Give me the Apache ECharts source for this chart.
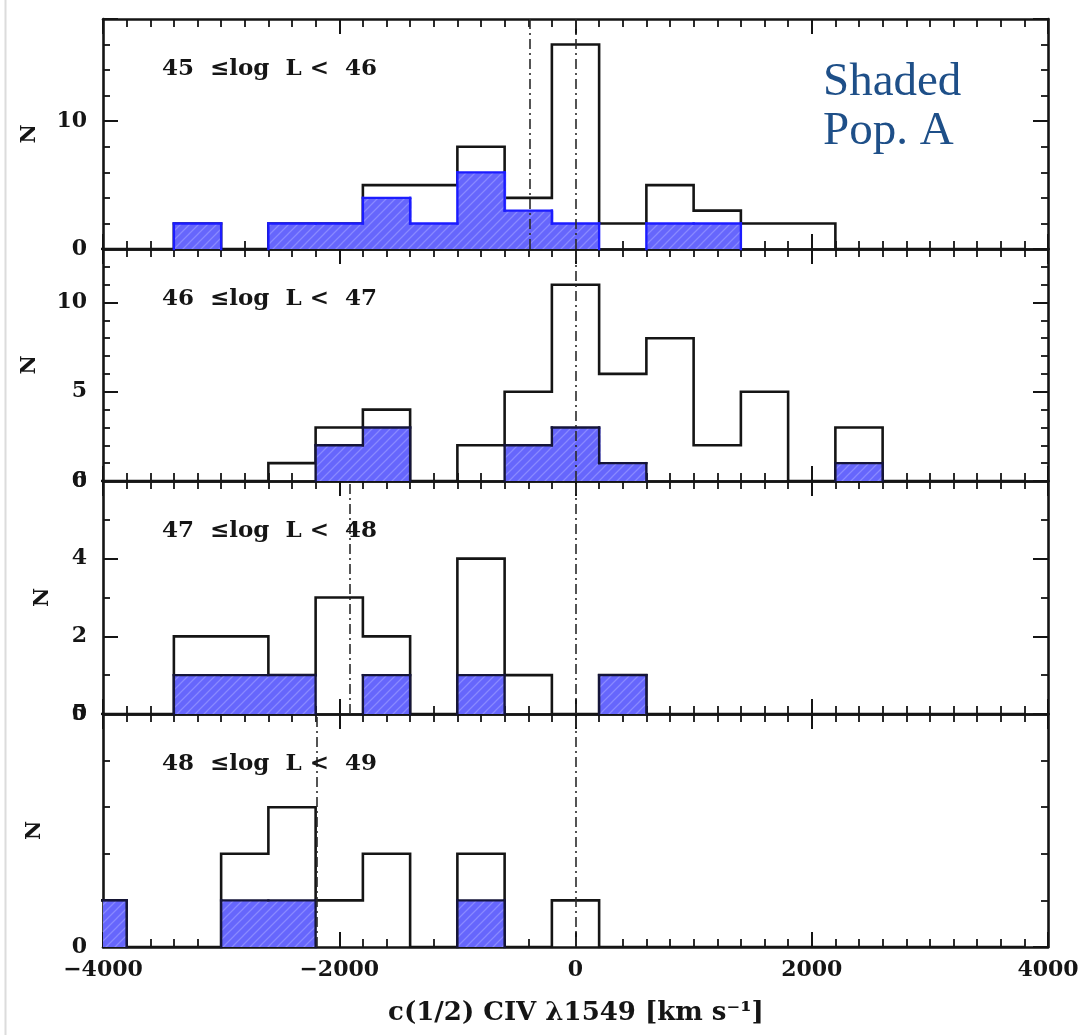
<!DOCTYPE html>
<html>
<head>
<meta charset="utf-8">
<script src="https://cdn.jsdelivr.net/npm/echarts@6/dist/echarts.min.js"></script>
<style>
  html, body { margin: 0; padding: 0; background: #fff; }
  #chart { width: 1085px; height: 1035px; }
</style>
</head>
<body>
<div id="chart"></div>
<script>
// Lower edges of the 400 km/s velocity bins
const binLow = [-4200, -3800, -3400, -3000, -2600, -2200, -1800, -1400, -1000, -600,
                -200, 200, 600, 1000, 1400, 1800, 2200, 2600, 3000, 3400];
const binWidth = 400;

// Luminosity bins, one panel each
const panelLabels = ['45  \u2264log  L <  46', '46  \u2264log  L <  47', '47  \u2264log  L <  48', '48  \u2264log  L <  49'];

// Counts of all sources per velocity bin
const allCounts45 = [0, 0, 2, 0, 2, 2, 5, 5, 8, 4, 16, 2, 5, 3, 2, 2, 0, 0, 0, 0];
const allCounts46 = [0, 0, 0, 0, 1, 3, 4, 0, 2, 5, 11, 6, 8, 2, 5, 0, 3, 0, 0, 0];
const allCounts47 = [0, 0, 2, 2, 1, 3, 2, 0, 4, 1, 0, 1, 0, 0, 0, 0, 0, 0, 0, 0];
const allCounts48 = [1, 0, 0, 2, 3, 1, 2, 0, 2, 0, 1, 0, 0, 0, 0, 0, 0, 0, 0, 0];

// Counts of Population A sources (shaded)
const popACounts45 = [0, 0, 2, 0, 2, 2, 4, 2, 6, 3, 2, 0, 2, 2, 0, 0, 0, 0, 0, 0];
const popACounts46 = [0, 0, 0, 0, 0, 2, 3, 0, 0, 2, 3, 1, 0, 0, 0, 0, 1, 0, 0, 0];
const popACounts47 = [0, 0, 1, 1, 1, 0, 1, 0, 1, 0, 0, 1, 0, 0, 0, 0, 0, 0, 0, 0];
const popACounts48 = [1, 0, 0, 1, 1, 0, 0, 0, 1, 0, 0, 0, 0, 0, 0, 0, 0, 0, 0, 0];

// Dash-dot reference velocities (sample median and zero)
const refLines45 = [-390, 0];
const refLines46 = [0];
const refLines47 = [-1910, 0];
const refLines48 = [-2190, 0];

// Y-axis ranges and tick spacing per panel
const yMax = [18, 13, 6, 5];
const yStep = [10, 5, 2, 5];
const yMinorSplit = [5, 5, 2, 5];

// X-axis range and ticks
const xMin = -4000, xMax = 4000, xStep = 2000;

const xTitle = 'c(1/2) CIV \u03bb1549 [km s\u207b\u00b9]';
const noteLines = ['Shaded', 'Pop. A'];

const allCounts = [allCounts45, allCounts46, allCounts47, allCounts48];
const popACounts = [popACounts45, popACounts46, popACounts47, popACounts48];
const refLines = [refLines45, refLines46, refLines47, refLines48];

// ---- layout ----
const plotLeft = 103, plotRight = 1048;
const panelTop = [19, 249, 481, 714];
const panelBottom = [249, 481, 714, 947];
const nameGaps = [63, 63, 50, 58];
const FONT = 'DejaVu Serif';
const INK = '#151515';

function makeHatch() {
  const c = document.createElement('canvas');
  c.width = 9; c.height = 9;
  const g = c.getContext('2d');
  g.fillStyle = '#6666fc';
  g.fillRect(0, 0, 9, 9);
  g.strokeStyle = '#8989ff';
  g.lineWidth = 1.3;
  g.beginPath();
  g.moveTo(-1, 10); g.lineTo(10, -1);
  g.moveTo(-5.5, 5.5); g.lineTo(5.5, -5.5);
  g.moveTo(3.5, 14.5); g.lineTo(14.5, 3.5);
  g.stroke();
  return c;
}
const hatch = makeHatch();

const chart = echarts.init(document.getElementById('chart'), null, { renderer: 'canvas' });

const grids = [], xAxes = [], yAxes = [], series = [], graphics = [];

function fmtX(v) {
  return v < 0 ? '\u2212' + Math.abs(v) : String(v);
}

for (let i = 0; i < 4; i++) {
  grids.push({
    left: plotLeft, width: plotRight - plotLeft,
    top: panelTop[i], height: panelBottom[i] - panelTop[i],
    containLabel: false
  });

  const tickCommon = {
    axisLine: { show: true, onZero: false, lineStyle: { color: INK, width: 2.6 } },
    axisTick: { show: true, inside: true, length: 15, lineStyle: { color: INK, width: 2 } },
    splitLine: { show: false }
  };

  // bottom and top x axes
  xAxes.push(Object.assign({
    gridIndex: i, type: 'value', position: 'bottom',
    min: xMin, max: xMax, interval: xStep,
    minorTick: { show: true, splitNumber: 10, length: 8, lineStyle: { color: INK, width: 1.8 } },
    axisLabel: {
      show: i === 3, margin: 12, color: INK, fontFamily: FONT, fontSize: 22, fontWeight: 'bold',
      formatter: fmtX
    }
  }, tickCommon));
  xAxes.push(Object.assign({
    gridIndex: i, type: 'value', position: 'top',
    min: xMin, max: xMax, interval: xStep,
    minorTick: { show: true, splitNumber: 10, length: 8, lineStyle: { color: INK, width: 1.8 } },
    axisLabel: { show: false }
  }, tickCommon));

  // left and right y axes
  yAxes.push(Object.assign({
    gridIndex: i, type: 'value', position: 'left',
    min: 0, max: yMax[i], interval: yStep[i],
    minorTick: { show: true, splitNumber: yMinorSplit[i], length: 7, lineStyle: { color: INK, width: 1.8 } },
    axisLabel: {
      show: true, margin: 16, color: INK, fontFamily: FONT, fontSize: 22, fontWeight: 'bold',
      showMaxLabel: (yMax[i] % yStep[i]) === 0, showMinLabel: true
    },
    name: 'N', nameLocation: 'middle', nameRotate: 90, nameGap: nameGaps[i],
    nameTextStyle: { color: INK, fontFamily: FONT, fontSize: 21, fontWeight: 'bold' }
  }, tickCommon));
  yAxes.push(Object.assign({
    gridIndex: i, type: 'value', position: 'right',
    min: 0, max: yMax[i], interval: yStep[i],
    minorTick: { show: true, splitNumber: yMinorSplit[i], length: 7, lineStyle: { color: INK, width: 1.8 } },
    axisLabel: { show: false }
  }, tickCommon));

  // outline of all sources as a staircase
  const counts = allCounts[i];
  const stair = [[binLow[0], 0]];
  counts.forEach((c, k) => stair.push([binLow[k], c]));
  stair.push([binLow[binLow.length - 1] + binWidth, 0]);

  series.push({
    type: 'line', xAxisIndex: 2 * i, yAxisIndex: 2 * i,
    data: stair, step: 'end', showSymbol: false, symbol: 'none',
    clip: true, silent: true, z: 3,
    lineStyle: { color: INK, width: 2.6, join: 'miter' },
    markLine: {
      silent: true, symbol: ['none', 'none'],
      label: { show: false },
      lineStyle: { color: '#2a2a2a', width: 1.6, type: [10, 4, 2, 4] },
      data: refLines[i].map(v => ({ xAxis: v }))
    }
  });

  // Population A: hatched fill with a merged staircase outline
  const edge = i === 0 ? '#1c1cff' : '#15153a';
  series.push({
    type: 'custom', xAxisIndex: 2 * i, yAxisIndex: 2 * i, z: 4, silent: true,
    data: binLow.map((lo, k) => [lo, lo + binWidth, popACounts[i][k]]),
    encode: { x: [0, 1], y: 2 },
    renderItem: function (params, api) {
      const idx = params.dataIndexInside;
      const n = api.value(2);
      if (!n) return null;
      const count = params.dataInsideLength;
      const prev = idx > 0 ? api.value(2, idx - 1) : 0;
      const next = idx < count - 1 ? api.value(2, idx + 1) : 0;
      const lo = api.value(0), hi = api.value(1);
      const cs = params.coordSys;
      const box = { x: cs.x, y: cs.y, width: cs.width, height: cs.height };
      const a = api.coord([lo, n]);
      const b = api.coord([hi, 0]);
      // overlap a neighbouring filled bin slightly so no seam shows
      const extra = next ? 1.5 : 0;
      const shape = echarts.graphic.clipRectByRect(
        { x: a[0], y: a[1], width: b[0] - a[0] + extra, height: b[1] - a[1] }, box);
      if (!shape) return null;
      const xl = Math.max(a[0], cs.x), xr = Math.min(b[0], cs.x + cs.width);
      const yTop = a[1];
      const yPrev = api.coord([lo, prev || 0])[1];
      const yZero = b[1];
      const lineStyle = { stroke: edge, lineWidth: 2.4, lineCap: 'square' };
      const children = [
        { type: 'rect', z2: 0, shape: shape, style: { fill: { image: hatch, repeat: 'repeat' } } },
        { type: 'line', z2: 5, shape: { x1: xl, y1: yTop, x2: xr, y2: yTop }, style: lineStyle }
      ];
      if (a[0] >= cs.x && prev !== n) {
        children.push({ type: 'line', z2: 5, shape: { x1: a[0], y1: yPrev, x2: a[0], y2: yTop }, style: lineStyle });
      }
      if (!next) {
        children.push({ type: 'line', z2: 5, shape: { x1: xr, y1: yTop, x2: xr, y2: yZero }, style: lineStyle });
      }
      return { type: 'group', children: children };
    }
  });

  // panel label
  graphics.push({
    type: 'text', left: 162, top: panelTop[i] + 39, z: 10,
    style: { text: panelLabels[i], fill: INK, font: 'bold 23px "' + FONT + '"' }
  });
}

// axis title
graphics.push({
  type: 'text', z: 10,
  x: 576, y: 1013,
  style: { text: xTitle, fill: INK, font: 'bold 26px "' + FONT + '"', align: 'center', verticalAlign: 'middle' }
});

// annotation on the first panel
graphics.push({
  type: 'text', z: 10, x: 823, y: 83,
  style: { text: noteLines[0], fill: '#1e4f88', font: '47px "Liberation Serif"', align: 'left', verticalAlign: 'middle' }
});
graphics.push({
  type: 'text', z: 10, x: 823, y: 132,
  style: { text: noteLines[1], fill: '#1e4f88', font: '47px "Liberation Serif"', align: 'left', verticalAlign: 'middle' }
});

// thin frame line at the left edge
graphics.push({
  type: 'line', z: 1, silent: true,
  shape: { x1: 5.5, y1: 0, x2: 5.5, y2: 1035 },
  style: { stroke: '#dcdcdc', lineWidth: 2 }
});

chart.setOption({
  animation: false,
  backgroundColor: '#ffffff',
  grid: grids,
  xAxis: xAxes,
  yAxis: yAxes,
  series: series,
  graphic: graphics
});
</script>
</body>
</html>
